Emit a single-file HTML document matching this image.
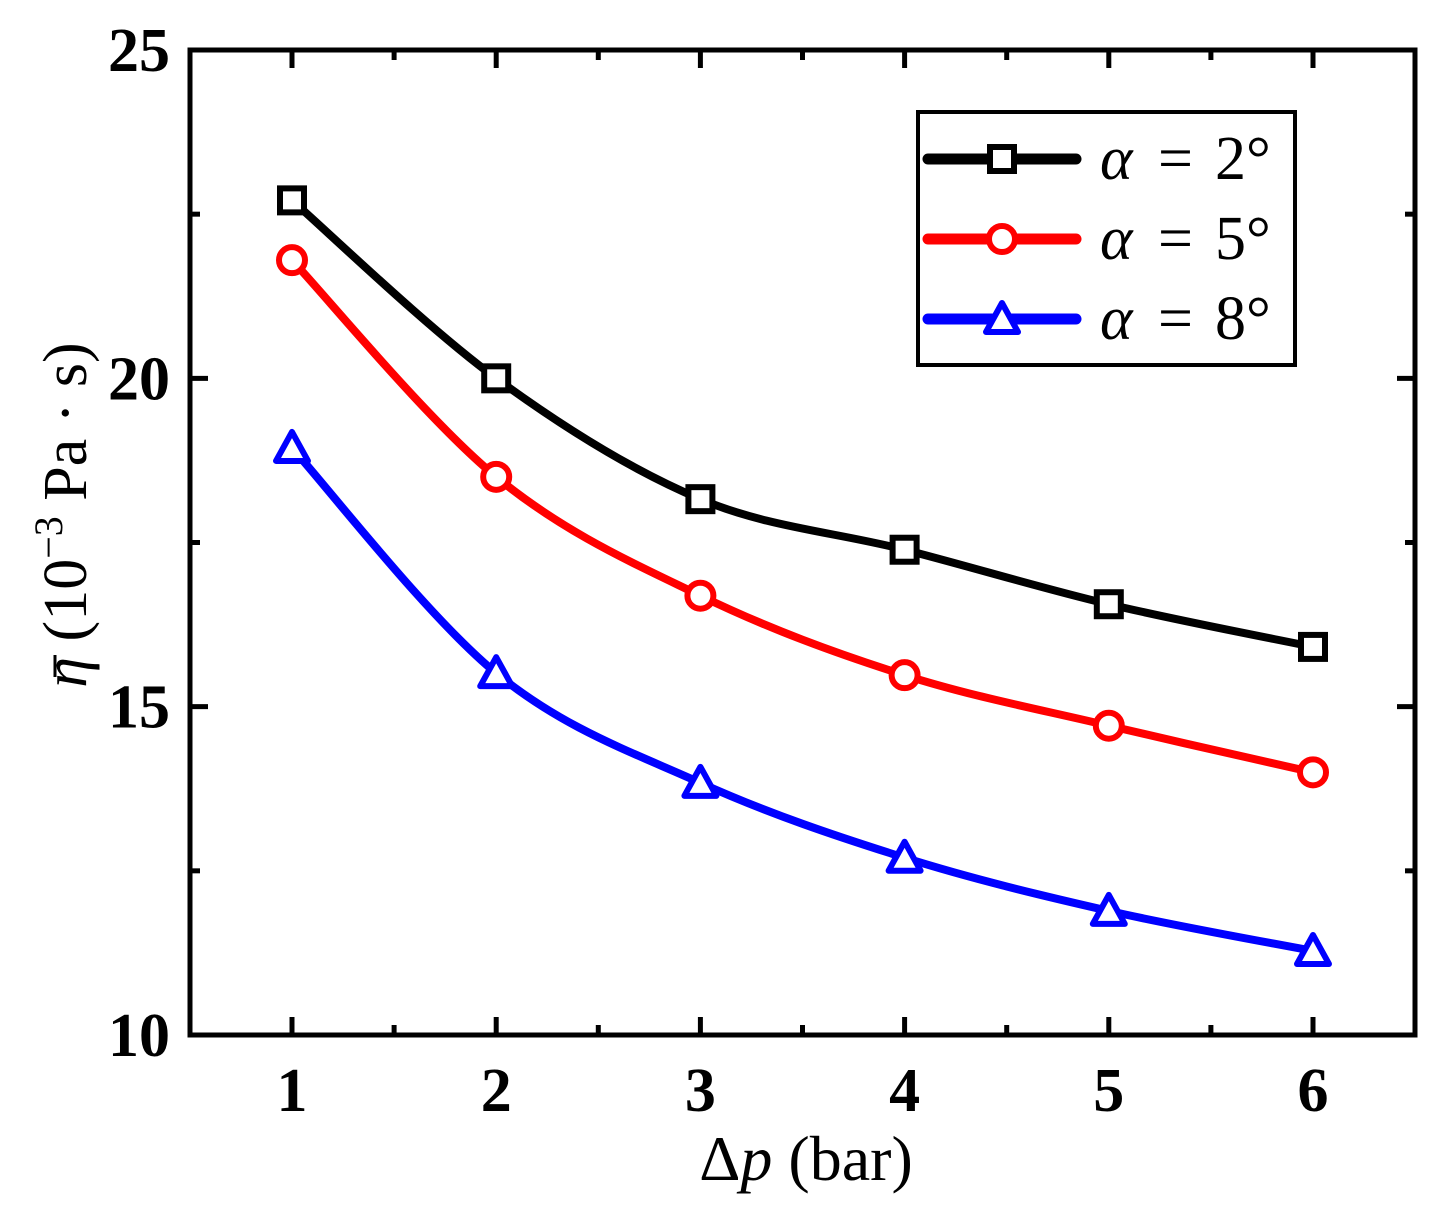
<!DOCTYPE html>
<html><head><meta charset="utf-8"><style>
html,body{margin:0;padding:0;background:#fff;}
svg{display:block;font-family:"Liberation Serif",serif;}
</style></head><body>
<svg id="chart" width="1443" height="1212" viewBox="0 0 1443 1212">
<g id="plot"></g>
</svg>
<script>
const categories=[1,2,3,4,5,6];
const seriesA2=[22.71,20.0,18.16,17.39,16.56,15.91];
const seriesA5=[21.8,18.5,16.69,15.48,14.71,14.0];
const seriesA8=[18.94,15.51,13.84,12.70,11.89,11.28];
const xTickLabels=["1","2","3","4","5","6"];
const yTickLabels=["10","15","20","25"];
const yTickValues=[10,15,20,25];

const L=190,R=1415,T=50,B=1035;
const X=v=>292+(v-1)*(1313-292)/5;
const Y=v=>B-(v-10)*(B-T)/15;
const NS="http://www.w3.org/2000/svg";
const g=document.getElementById('plot');
function mk(tag,attrs,parent){const e=document.createElementNS(NS,tag);for(const k in attrs)e.setAttribute(k,attrs[k]);(parent||g).appendChild(e);return e;}

for(let v=1;v<=6;v+=0.5){
  const len=(v%1===0)?18:10;
  let t=mk('line',{x1:X(v),x2:X(v),y1:B,y2:B-len,stroke:'#000','stroke-width':5});
  
  
  t=mk('line',{x1:X(v),x2:X(v),y1:T,y2:T+len,stroke:'#000','stroke-width':5});
  
  
}
for(let v=10;v<=25;v+=2.5){
  const len=(v%5===0)?18:10;
  let t=mk('line',{x1:L,x2:L+len,y1:Y(v),y2:Y(v),stroke:'#000','stroke-width':5});
  
  
  t=mk('line',{x1:R,x2:R-len,y1:Y(v),y2:Y(v),stroke:'#000','stroke-width':5});
  
  
}
const frame=mk('rect',{x:L,y:T,width:R-L,height:B-T,fill:'none',stroke:'#000','stroke-width':5});



categories.forEach((c,i)=>{
  const t=mk('text',{x:X(c),y:1111,'text-anchor':'middle','font-size':62,'font-weight':'bold'});
  t.textContent=xTickLabels[i];
  
  
});
yTickValues.forEach((v,i)=>{
  const t=mk('text',{x:170,y:Y(v)+21,'text-anchor':'end','font-size':62,'font-weight':'bold'});
  t.textContent=yTickLabels[i];
  
  
});

function smooth(pts){
  let d=`M${pts[0][0]},${pts[0][1]}`;
  for(let i=0;i<pts.length-1;i++){
    const p0=pts[i-1]||pts[i],p1=pts[i],p2=pts[i+1],p3=pts[i+2]||p2;
    const c1=[p1[0]+(p2[0]-p0[0])/6,p1[1]+(p2[1]-p0[1])/6];
    const c2=[p2[0]-(p3[0]-p1[0])/6,p2[1]-(p3[1]-p1[1])/6];
    d+=` C${c1[0]},${c1[1]} ${c2[0]},${c2[1]} ${p2[0]},${p2[1]}`;
  }
  return d;
}
function marker(type,x,y,color,parent){
  if(type==='square')return mk('rect',{x:x-12,y:y-12,width:24,height:24,fill:'#fff',stroke:color,'stroke-width':6},parent);
  if(type==='circle')return mk('circle',{cx:x,cy:y,r:13,fill:'#fff',stroke:color,'stroke-width':6},parent);
  return mk('polygon',{points:`${x},${y-16} ${x+16},${y+13} ${x-16},${y+13}`,fill:'#fff',stroke:color,'stroke-width':6,'stroke-linejoin':'round'},parent);
}
const series=[[seriesA2,'#000','square','a2'],[seriesA5,'#ff0000','circle','a5'],[seriesA8,'#0000ff','triangle','a8']];
series.forEach(([vals,col,type,nm])=>{
  const sg=mk('g',{});
  
  
  const pts=categories.map((c,i)=>[X(c),Y(vals[i])]);
  const p=mk('path',{d:smooth(pts),fill:'none',stroke:col,'stroke-width':8,'stroke-linecap':'round'},sg);
  
  
  pts.forEach(pt=>{
    const m=marker(type,pt[0],pt[1],col,sg);
    
    
  });
});

const lg=mk('g',{});


mk('rect',{x:918,y:112,width:377,height:253,fill:'#fff',stroke:'#000','stroke-width':4},lg);
const degs=['2°','5°','8°'];
series.forEach(([vals,col,type,nm],i)=>{
  const y=159+i*80;
  const e=mk('g',{},lg);
  
  
  mk('line',{x1:928,x2:1076,y1:y,y2:y,stroke:col,'stroke-width':11,'stroke-linecap':'round'},e);
  marker(type,1002,y,col,e);
  const a=mk('text',{x:1100,y:y+20,'font-size':62,'font-style':'italic'},e);
  a.textContent='α';
  const eq=mk('text',{x:1158,y:y+20,'font-size':62},e);
  eq.textContent='=';
  const d=mk('text',{x:1215,y:y+20,'font-size':62},e);
  d.textContent=degs[i];
});

const xt=mk('text',{x:806,y:1180,'text-anchor':'middle','font-size':64});
xt.innerHTML='Δ<tspan font-style="italic">p</tspan> (bar)';


const yt=mk('text',{x:0,y:0,'text-anchor':'middle','font-size':62,transform:'translate(86,515) rotate(-90)'});
yt.innerHTML='<tspan font-style="italic">η</tspan> (10<tspan font-size="40" dy="-24">−3</tspan><tspan dy="24"> Pa · s)</tspan>';


const bar=mk('line',{x1:55,x2:55,y1:655,y2:677,stroke:'#000','stroke-width':3});


</script>
</body></html>
